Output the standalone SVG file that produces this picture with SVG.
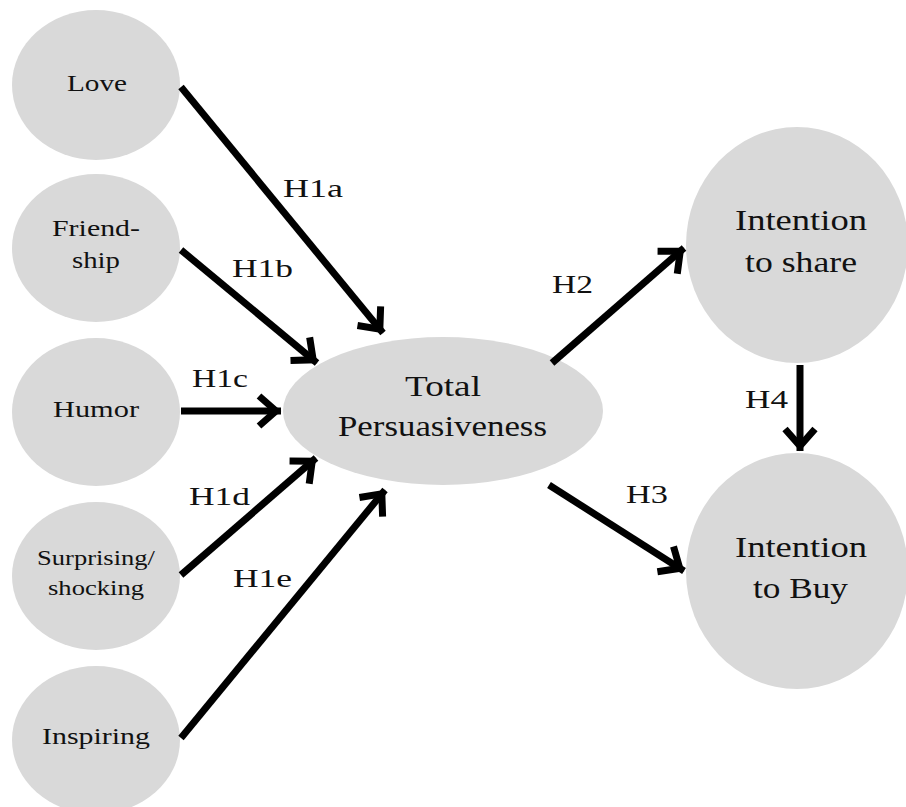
<svg xmlns="http://www.w3.org/2000/svg" width="906" height="807" viewBox="0 0 906 807">
<style>
.n{fill:#d9d9d9}
.t{font-family:"Liberation Serif","Times New Roman",serif;fill:#111;text-anchor:start}
.s{font-size:24px}
.m{font-size:21px}
.b{font-size:29px}
.l{font-size:26px}
.c{stroke:#000;stroke-width:7;fill:none}
</style>
<defs>
<marker id="ah" markerUnits="userSpaceOnUse" markerWidth="40" markerHeight="40" viewBox="-30 -20 40 40" refX="5" refY="0" orient="auto" overflow="visible">
<path d="M-17,-15 L0,0 L-17,15" fill="none" stroke="#000" stroke-width="7"/>
</marker>
</defs>
<rect width="906" height="807" fill="#fff"/>
<g id="love"><ellipse class="n" cx="96" cy="85" rx="84" ry="75"/><text class="t s" x="67" y="91" textLength="60" lengthAdjust="spacingAndGlyphs">Love</text></g>
<g id="friendship"><ellipse class="n" cx="96" cy="248" rx="84" ry="74"/><text class="t s" x="52" y="236" textLength="88" lengthAdjust="spacingAndGlyphs">Friend-</text><text class="t s" x="72" y="268" textLength="48" lengthAdjust="spacingAndGlyphs">ship</text></g>
<g id="humor"><ellipse class="n" cx="96" cy="412" rx="84" ry="74"/><text class="t s" x="53" y="417" textLength="86" lengthAdjust="spacingAndGlyphs">Humor</text></g>
<g id="surprising"><ellipse class="n" cx="96" cy="576" rx="84" ry="74"/><text class="t m" x="37" y="565" textLength="118" lengthAdjust="spacingAndGlyphs">Surprising/</text><text class="t m" x="48" y="595" textLength="96" lengthAdjust="spacingAndGlyphs">shocking</text></g>
<g id="inspiring"><ellipse class="n" cx="96" cy="740" rx="84" ry="74"/><text class="t s" x="42" y="744" textLength="108" lengthAdjust="spacingAndGlyphs">Inspiring</text></g>
<g id="total"><ellipse class="n" cx="443" cy="411" rx="160" ry="74"/><text class="t b" x="405" y="396" textLength="76" lengthAdjust="spacingAndGlyphs">Total</text><text class="t b" x="338" y="436" textLength="209" lengthAdjust="spacingAndGlyphs">Persuasiveness</text></g>
<g id="share"><ellipse class="n" cx="797" cy="245" rx="111" ry="118"/><text class="t b" x="735" y="230" textLength="132" lengthAdjust="spacingAndGlyphs">Intention</text><text class="t b" x="745" y="272" textLength="112" lengthAdjust="spacingAndGlyphs">to share</text></g>
<g id="buy"><ellipse class="n" cx="797" cy="571" rx="111" ry="118"/><text class="t b" x="735" y="557" textLength="132" lengthAdjust="spacingAndGlyphs">Intention</text><text class="t b" x="753" y="598" textLength="95" lengthAdjust="spacingAndGlyphs">to Buy</text></g>
<g id="connectors">
<line class="c" x1="181" y1="87" x2="383" y2="333" marker-end="url(#ah)"/>
<line class="c" x1="181" y1="250" x2="317" y2="363" marker-end="url(#ah)"/>
<line class="c" x1="181" y1="411" x2="281" y2="411" marker-end="url(#ah)"/>
<line class="c" x1="181" y1="575" x2="316" y2="458" marker-end="url(#ah)"/>
<line class="c" x1="181" y1="738" x2="385" y2="490" marker-end="url(#ah)"/>
<line class="c" x1="552" y1="363" x2="684" y2="248" marker-end="url(#ah)"/>
<line class="c" x1="549" y1="485" x2="684" y2="571" marker-end="url(#ah)"/>
<line class="c" x1="800" y1="365" x2="800" y2="451" marker-end="url(#ah)"/>
<text class="t l" x="283" y="197" textLength="60" lengthAdjust="spacingAndGlyphs">H1a</text>
<text class="t l" x="232" y="277" textLength="61" lengthAdjust="spacingAndGlyphs">H1b</text>
<text class="t l" x="192" y="387" textLength="56" lengthAdjust="spacingAndGlyphs">H1c</text>
<text class="t l" x="189" y="505" textLength="61" lengthAdjust="spacingAndGlyphs">H1d</text>
<text class="t l" x="233" y="587" textLength="59" lengthAdjust="spacingAndGlyphs">H1e</text>
<text class="t l" x="552" y="293" textLength="41" lengthAdjust="spacingAndGlyphs">H2</text>
<text class="t l" x="626" y="503" textLength="42" lengthAdjust="spacingAndGlyphs">H3</text>
<text class="t l" x="745" y="408" textLength="43" lengthAdjust="spacingAndGlyphs">H4</text>
</g>
</svg>
